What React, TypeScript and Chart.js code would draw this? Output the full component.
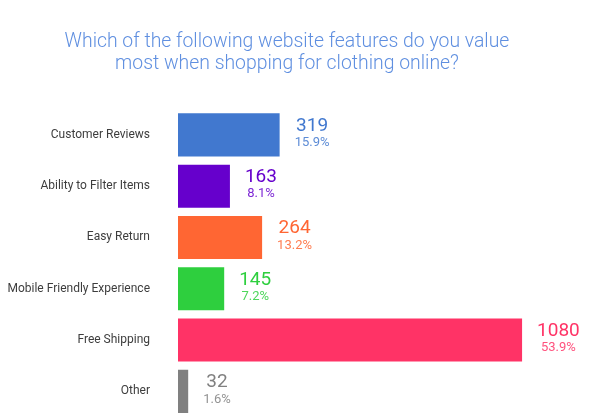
import { useEffect, useRef } from "react";
import { Chart, registerables } from "chart.js";

Chart.register(...registerables);

const categories = [
	"Customer Reviews",
	"Ability to Filter Items",
	"Easy Return",
	"Mobile Friendly Experience",
	"Free Shipping",
	"Other",
];
const counts = [319, 163, 264, 145, 1080, 32];
const percents = ["15.9%", "8.1%", "13.2%", "7.2%", "53.9%", "1.6%"];
const barColors = ["#4178cf", "#6600cc", "#ff6633", "#2ecf3e", "#ff3366", "#808080"];
const titleLines = [
	"Which of the following website features do you value",
	"most when shopping for clothing online?",
];

// draws the count and the share to the right of each bar
const valueLabels = {
	id: "valueLabels",
	afterDatasetsDraw(chart: Chart) {
		const ctx = chart.ctx;
		const meta = chart.getDatasetMeta(0);
		meta.data.forEach((bar: any, i: number) => {
			const big = String(counts[i]);
			const small = percents[i];
			ctx.save();
			ctx.font = "19px Roboto, sans-serif";
			const w1 = ctx.measureText(big).width;
			ctx.font = "13px Roboto, sans-serif";
			const w2 = ctx.measureText(small).width;
			const cx = bar.x + 15 + Math.max(w1, w2) / 2;
			ctx.textAlign = "center";
			ctx.textBaseline = "middle";
			ctx.fillStyle = barColors[i];
			ctx.font = "19px Roboto, sans-serif";
			ctx.fillText(big, cx, bar.y - 9);
			ctx.globalAlpha = 0.85;
			ctx.font = "13px Roboto, sans-serif";
			ctx.fillText(small, cx, bar.y + 8);
			ctx.restore();
		});
	},
};

export default function App() {
	const chartRef = useRef<HTMLCanvasElement | null>(null);
	const chartInstance = useRef<Chart | null>(null);

	useEffect(() => {
		if (!chartRef.current) return;
		const ctx = chartRef.current.getContext("2d");
		if (!ctx) return;

		if (chartInstance.current) {
			chartInstance.current.destroy();
		}

		chartInstance.current = new Chart(ctx, {
			type: "bar",
			data: {
				labels: categories,
				datasets: [
					{
						data: counts,
						backgroundColor: barColors,
						borderWidth: 0,
						barPercentage: 0.84,
						categoryPercentage: 1,
					},
				],
			},
			options: {
				indexAxis: "y",
				animation: false,
				responsive: false,
				layout: {
					autoPadding: false,
					padding: { left: 0, right: 42, top: 0, bottom: 3 },
				},
				plugins: {
					legend: { display: false },
					tooltip: { enabled: false },
					title: {
						display: true,
						text: titleLines,
						color: "#5f8fe0",
						font: {
							family: "Roboto, sans-serif",
							size: 19.4,
							weight: 300,
							lineHeight: 1.14,
						},
						padding: { top: 31, bottom: 34 },
					},
				},
				scales: {
					x: {
						display: false,
						min: 0,
						max: 1243,
					},
					y: {
						afterFit: (scale: any) => {
							scale.width = 178;
							scale.paddingTop = 0;
							scale.paddingBottom = 0;
						},
						// tick marks are hidden, their length only pushes the labels left of the bars
						grid: { display: false, drawTicks: true, tickLength: 28 },
						border: { display: false },
						ticks: {
							color: "#3d3d3d",
							padding: 0,
							font: { family: "Roboto, sans-serif", size: 12 },
						},
					},
				},
			},
			plugins: [valueLabels],
		});

		return () => {
			if (chartInstance.current) {
				chartInstance.current.destroy();
				chartInstance.current = null;
			}
		};
	}, []);

	return (
		<div
			style={{
				position: "absolute",
				left: 0,
				top: 0,
				width: 616,
				height: 420,
				background: "#ffffff",
			}}
		>
			<canvas ref={chartRef} width={616} height={420} />
		</div>
	);
}
